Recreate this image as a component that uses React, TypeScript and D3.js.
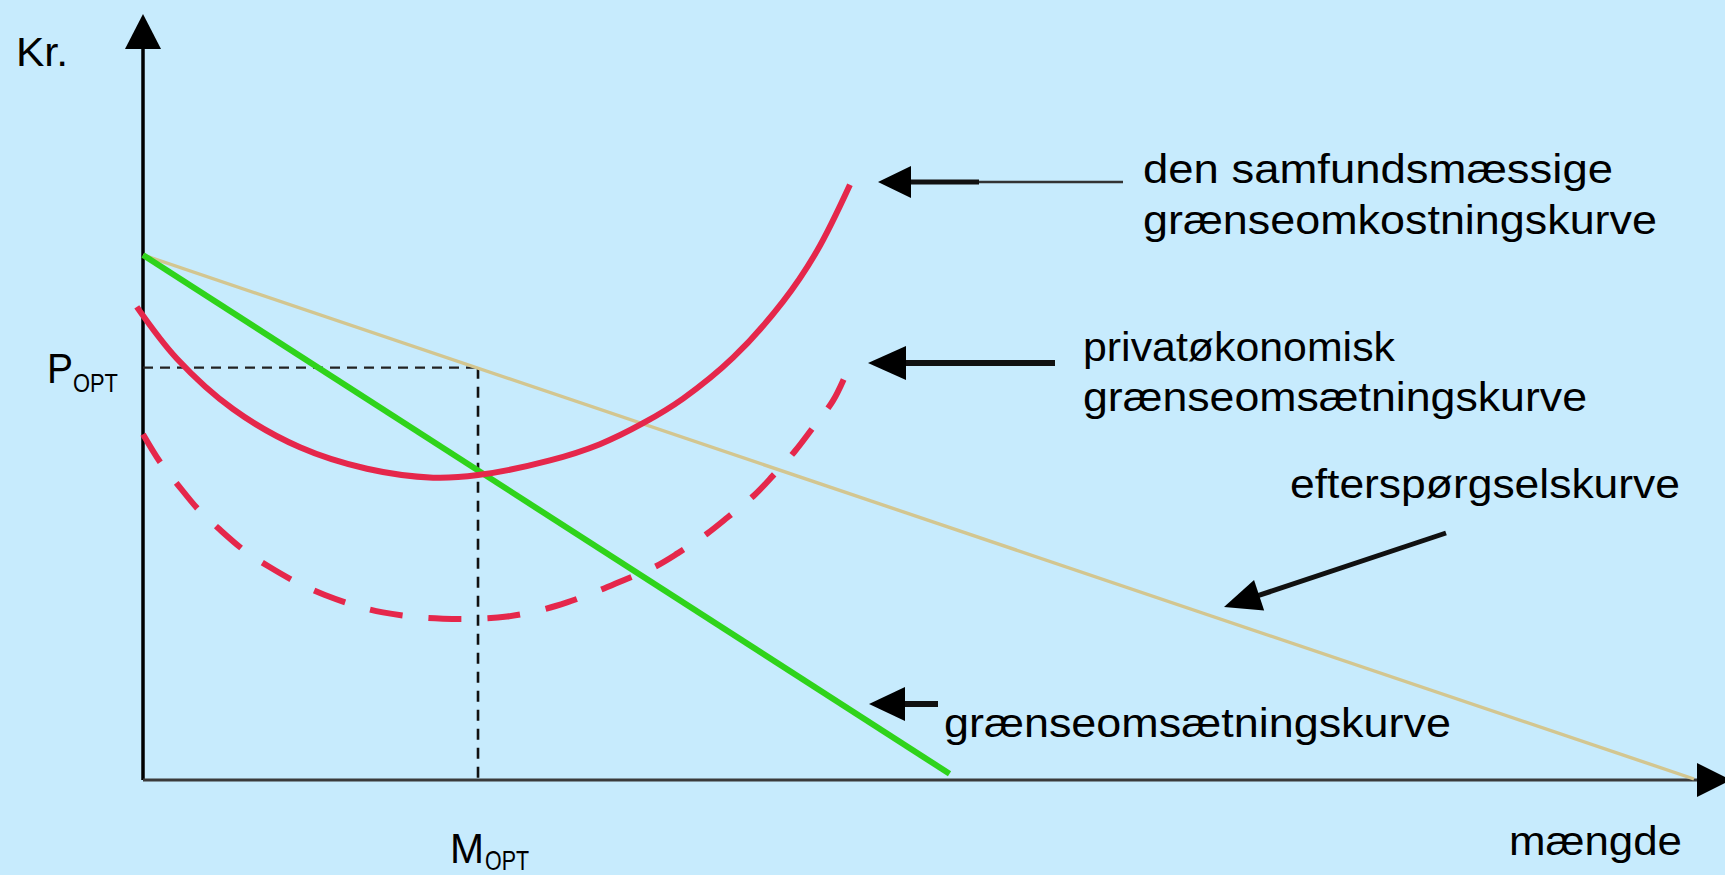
import React from "react";
import * as d3 from "d3";

// ---- data (abstract units: quantity 0..100, price 0..100) ----
const demandCurve = [
  { q: 0, p: 100 },
  { q: 100, p: 0 },
];
const marginalRevenue = [
  { q: 0, p: 100 },
  { q: 52.0, p: 1.0 },
];
const socialMarginalCost = [
  { q: -0.4, p: 90.1 },
  { q: 2.19, p: 80.2 },
  { q: 5.8, p: 70.6 },
  { q: 10.12, p: 63.3 },
  { q: 14.44, p: 59.2 },
  { q: 18.7, p: 57.5 },
  { q: 21.6, p: 58.0 },
  { q: 26.24, p: 60.8 },
  { q: 29.46, p: 63.9 },
  { q: 32.24, p: 67.9 },
  { q: 34.82, p: 72.6 },
  { q: 38.04, p: 80.4 },
  { q: 41.26, p: 91.1 },
  { q: 43.46, p: 100.8 },
  { q: 45.58, p: 113.4 },
];
const privateMarginalCost = [
  { q: 0, p: 65.8 },
  { q: 1.1, p: 60.5 },
  { q: 2.26, p: 56.1 },
  { q: 3.61, p: 51.3 },
  { q: 4.84, p: 47.9 },
  { q: 6.58, p: 43.5 },
  { q: 8.19, p: 40.4 },
  { q: 9.99, p: 37.4 },
  { q: 11.73, p: 35.1 },
  { q: 13.8, p: 33.0 },
  { q: 15.47, p: 31.8 },
  { q: 17.67, p: 30.9 },
  { q: 19.34, p: 30.6 },
  { q: 21.6, p: 30.6 },
  { q: 23.47, p: 31.0 },
  { q: 25.6, p: 32.2 },
  { q: 27.34, p: 33.7 },
  { q: 29.34, p: 35.9 },
  { q: 30.95, p: 37.9 },
  { q: 33.01, p: 40.5 },
  { q: 34.49, p: 43.1 },
  { q: 36.36, p: 46.8 },
  { q: 37.72, p: 50.0 },
  { q: 39.46, p: 54.3 },
  { q: 40.62, p: 57.9 },
  { q: 42.04, p: 62.6 },
  { q: 43.13, p: 66.8 },
  { q: 44.49, p: 72.2 },
  { q: 45.39, p: 77.7 },
];
const optimum = { q: 21.6, p: 78.5 };

const axisLabels = { y: "Kr.", x: "mængde" };
const optLabels = { p: "P", m: "M", sub: "OPT" };
const curveLabels = [
  ["den samfundsmæssige", "grænseomkostningskurve"],
  ["privatøkonomisk", "grænseomsætningskurve"],
  ["efterspørgselskurve"],
  ["grænseomsætningskurve"],
];

// ---- layout ----
const W = 1725;
const H = 875;
const BG = "#c7ebfd";
const RED = "#e5274b";
const GREEN = "#2fd31b";
const TAN = "#d3c690";
const NARROW = "'Liberation Sans Narrow', 'Arial Narrow', 'Liberation Sans', Arial, sans-serif";
const SANS = "'Liberation Sans', Arial, sans-serif";

const x = d3.scaleLinear().domain([0, 100]).range([143, 1694]);
const y = d3.scaleLinear().domain([0, 100]).range([779, 255]);

const straight = d3
  .line<{ q: number; p: number }>()
  .x((d) => x(d.q))
  .y((d) => y(d.p));
const smooth = d3
  .line<{ q: number; p: number }>()
  .x((d) => x(d.q))
  .y((d) => y(d.p))
  .curve(d3.curveCatmullRom.alpha(0.5));

function Arrow({ tip, tail, len, half, width, thinFrom, thinWidth }: any) {
  const [tx, ty] = tip;
  const [ex, ey] = tail;
  const ang = Math.atan2(ey - ty, ex - tx);
  const ux = Math.cos(ang);
  const uy = Math.sin(ang);
  const bx = tx + ux * len;
  const by = ty + uy * len;
  const head = `M${tx},${ty}L${bx - uy * half},${by + ux * half}L${bx + uy * half},${by - ux * half}Z`;
  if (thinFrom) {
    const mx = tx + ux * thinFrom;
    const my = ty + uy * thinFrom;
    return (
      <g>
        <line x1={bx - ux * 2} y1={by - uy * 2} x2={mx} y2={my} stroke="#111" strokeWidth={width} />
        <line x1={mx} y1={my} x2={ex} y2={ey} stroke="#333" strokeWidth={thinWidth} />
        <path d={head} fill="#000" />
      </g>
    );
  }
  return (
    <g>
      <line x1={bx - ux * 2} y1={by - uy * 2} x2={ex} y2={ey} stroke="#111" strokeWidth={width} />
      <path d={head} fill="#000" />
    </g>
  );
}

function T({ x: tx, y: ty, size, len, font, children }: any) {
  return (
    <text
      x={tx}
      y={ty}
      fontSize={size}
      fontFamily={font}
      textLength={len}
      lengthAdjust="spacingAndGlyphs"
      fill="#000"
    >
      {children}
    </text>
  );
}

export default function App() {
  const x0 = x(0);
  const y0 = y(0);
  const px = x(optimum.q);
  const py = y(optimum.p);
  return (
    <svg
      width={W}
      height={H}
      style={{ position: "fixed", left: 0, top: 0, display: "block" }}
    >
      <rect x={0} y={0} width={W} height={H} fill={BG} />

      {/* axes */}
      <line x1={x0} y1={y0 + 1} x2={x0} y2={46} stroke="#000" strokeWidth={3.5} />
      <path d={`M${x0},14L${x0 - 18},49L${x0 + 18},49Z`} fill="#000" />
      <line x1={x0} y1={y0 + 1} x2={1700} y2={y0 + 1} stroke="#3a3a3a" strokeWidth={3} />
      <path d={`M1731,${y0 + 1}L1697,${y0 - 16}L1697,${y0 + 18}Z`} fill="#000" />

      {/* optimum guides */}
      <line x1={x0} y1={py} x2={px} y2={py} stroke="#222" strokeWidth={2.2} strokeDasharray="10 7" />
      <line x1={px} y1={py} x2={px} y2={y0} stroke="#111" strokeWidth={2.6} strokeDasharray="11 8" />

      {/* curves */}
      <path d={straight(demandCurve) || ""} fill="none" stroke={TAN} strokeWidth={3.4} />
      <path d={straight(marginalRevenue) || ""} fill="none" stroke={GREEN} strokeWidth={6} />
      <path d={smooth(socialMarginalCost) || ""} fill="none" stroke={RED} strokeWidth={6} />
      <path
        d={smooth(privateMarginalCost) || ""}
        fill="none"
        stroke={RED}
        strokeWidth={6}
        strokeDasharray="33 26"
      />

      {/* annotation arrows */}
      <Arrow tip={[878, 182]} tail={[1123, 182]} len={33} half={16} width={5} thinFrom={101} thinWidth={2.5} />
      <Arrow tip={[868, 363]} tail={[1055, 363]} len={38} half={17} width={6} />
      <Arrow tip={[1224, 607]} tail={[1446, 533]} len={37} half={16} width={5} />
      <Arrow tip={[869, 704]} tail={[938, 704]} len={36} half={17} width={6} />

      {/* axis labels */}
      <T x={16} y={66} size={40} len={52} font={SANS}>{axisLabels.y}</T>
      <T x={1509} y={855} size={41} len={173} font={SANS}>{axisLabels.x}</T>

      {/* optimum labels */}
      <T x={47} y={383} size={42} len={26} font={SANS}>{optLabels.p}</T>
      <T x={73} y={392} size={26} len={45} font={SANS}>{optLabels.sub}</T>
      <T x={450} y={863} size={43} len={34} font={SANS}>{optLabels.m}</T>
      <T x={485} y={870} size={28} len={44} font={SANS}>{optLabels.sub}</T>

      {/* curve labels */}
      <T x={1143} y={183} size={41} len={470} font={NARROW}>{curveLabels[0][0]}</T>
      <T x={1143} y={234} size={41} len={514} font={NARROW}>{curveLabels[0][1]}</T>
      <T x={1083} y={361} size={41} len={312} font={NARROW}>{curveLabels[1][0]}</T>
      <T x={1083} y={411} size={41} len={504} font={NARROW}>{curveLabels[1][1]}</T>
      <T x={1290} y={498} size={41} len={390} font={NARROW}>{curveLabels[2][0]}</T>
      <T x={944} y={737} size={41} len={507} font={NARROW}>{curveLabels[3][0]}</T>
    </svg>
  );
}
